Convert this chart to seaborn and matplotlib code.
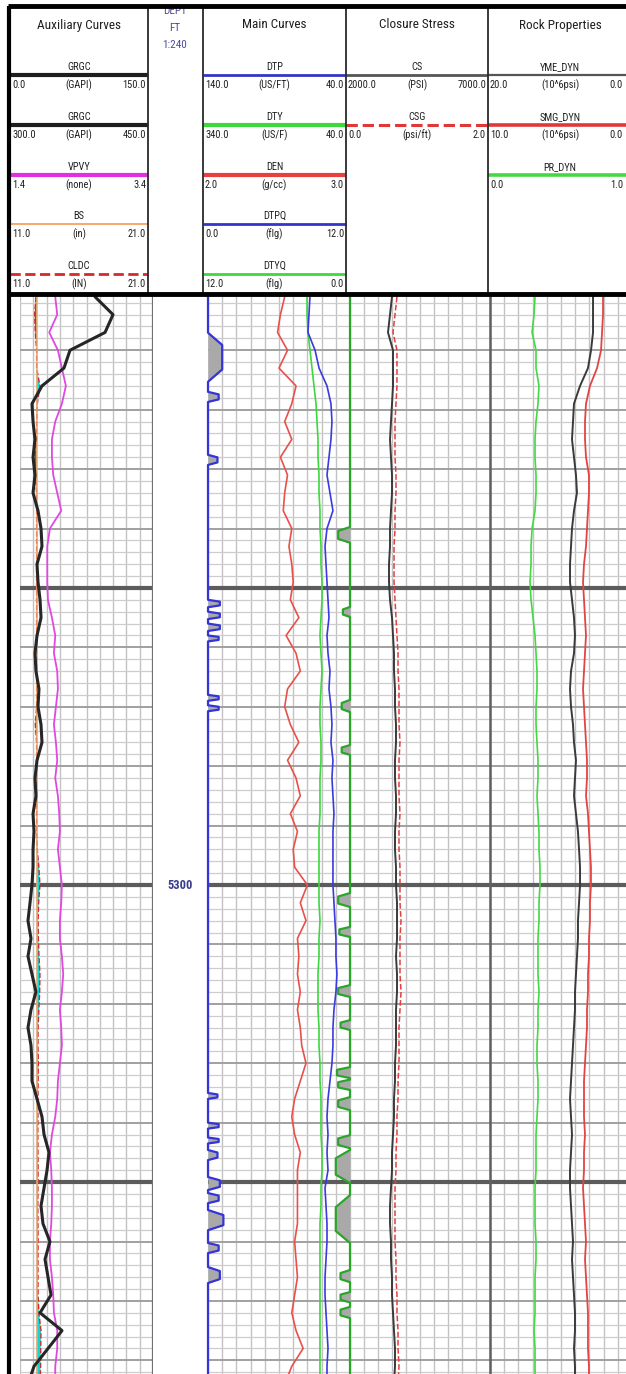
import numpy as np
import matplotlib
matplotlib.use("Agg")
import matplotlib.pyplot as plt
from matplotlib.lines import Line2D
from matplotlib.ticker import MultipleLocator
from matplotlib import font_manager
import seaborn as sns

# ---------------------------------------------------------------- log data
DEPTH = [5102, 5108, 5114, 5120, 5126, 5132, 5138, 5144, 5150, 5156,
         5162, 5168, 5174, 5180, 5186, 5192, 5198, 5204, 5210, 5216,
         5222, 5228, 5234, 5240, 5246, 5252, 5258, 5264, 5270, 5276,
         5282, 5288, 5294, 5300, 5306, 5312, 5318, 5324, 5330, 5336,
         5342, 5348, 5354, 5360, 5366, 5372, 5378, 5384, 5390, 5396,
         5402, 5408, 5414, 5420, 5426, 5432, 5438, 5444, 5450, 5456,
         5462, 5468]

GRGC = [84.6, 104.9, 95.9, 56.4, 49.6, 24.8, 13.5, 14.7, 16.9, 14.7,
        16.9, 14.7, 20.3, 23.7, 24.8, 19.2, 20.3, 22.6, 23.7, 19.2,
        16.9, 18.0, 21.4, 20.3, 23.7, 24.8, 19.2, 16.9, 18.0, 14.7,
        15.8, 14.7, 14.7, 13.5, 11.3, 9.0, 12.4, 9.0, 13.5, 18.0,
        12.4, 9.0, 12.4, 13.5, 13.5, 19.2, 24.8, 27.1, 32.7, 30.5,
        27.1, 23.7, 25.9, 33.8, 28.2, 31.6, 35.0, 22.6, 47.4, 31.6,
        15.8, 9.0]

VPVY = [1.93, 1.96, 1.84, 1.97, 2.03, 2.09, 2.03, 1.93, 1.88, 1.88,
        1.90, 1.96, 2.02, 1.85, 1.81, 1.81, 1.81, 1.82, 1.88, 1.93,
        1.91, 1.96, 1.97, 1.94, 1.91, 1.94, 1.96, 1.93, 1.97, 1.99,
        2.00, 1.97, 2.00, 2.03, 2.02, 2.00, 2.00, 2.03, 2.05, 2.03,
        2.00, 2.02, 2.03, 2.00, 1.97, 1.96, 1.93, 1.88, 1.85, 1.87,
        1.88, 1.88, 1.87, 1.85, 1.85, 1.88, 1.90, 1.91, 1.96, 1.96,
        1.93, 1.93]

BIT_SIZE = 12.25

CLDC = [12.20, 12.10, 12.15, 12.25, 12.25, 12.50, 12.30, 12.25, 12.25, 12.10,
        12.15, 12.25, 12.25, 12.25, 12.25, 12.25, 12.25, 12.25, 12.25, 12.25,
        12.25, 12.25, 12.25, 12.25, 12.15, 12.25, 12.25, 12.25, 12.25, 12.25,
        12.25, 12.30, 12.42, 12.50, 12.40, 12.36, 12.38, 12.43, 12.50, 12.48,
        12.42, 12.36, 12.35, 12.38, 12.36, 12.35, 12.35, 12.34, 12.35, 12.36,
        12.35, 12.34, 12.35, 12.36, 12.35, 12.35, 12.36, 12.42, 12.58, 12.56,
        12.55, 12.50]

DTP = [68.2, 68.9, 69.6, 64.6, 61.8, 56.2, 53.4, 52.7, 53.4, 54.8,
       56.2, 54.1, 52.0, 56.2, 57.6, 56.9, 56.2, 55.5, 54.8, 56.2,
       55.5, 54.1, 54.8, 53.4, 52.7, 53.4, 52.0, 52.7, 52.0, 51.3,
       52.0, 52.0, 52.0, 52.0, 51.3, 50.6, 49.9, 49.9, 49.2, 49.9,
       51.3, 52.0, 52.0, 52.7, 54.1, 55.5, 56.2, 55.5, 56.2, 55.5,
       57.6, 56.9, 56.2, 56.2, 56.9, 57.6, 57.6, 56.9, 56.2, 55.5,
       56.2, 56.2]

DTY = [130.8, 130.8, 128.7, 124.5, 120.3, 116.1, 111.8, 109.7, 107.6, 107.6,
       105.5, 105.5, 103.4, 103.4, 101.3, 101.3, 99.2, 99.2, 101.3, 103.4,
       101.3, 99.2, 101.3, 103.4, 103.4, 101.3, 101.3, 103.4, 103.4, 103.4,
       105.5, 105.5, 105.5, 105.5, 105.5, 103.4, 105.5, 105.5, 107.6, 107.6,
       107.6, 105.5, 105.5, 103.4, 103.4, 101.3, 101.3, 101.3, 99.2, 99.2,
       101.3, 101.3, 103.4, 103.4, 103.4, 103.4, 103.4, 103.4, 103.4, 103.4,
       103.4, 103.4]

DEN = [2.54, 2.51, 2.49, 2.56, 2.50, 2.62, 2.59, 2.54, 2.59, 2.51,
       2.56, 2.54, 2.53, 2.59, 2.57, 2.59, 2.60, 2.58, 2.64, 2.55,
       2.62, 2.65, 2.56, 2.54, 2.58, 2.64, 2.56, 2.62, 2.65, 2.58,
       2.63, 2.60, 2.61, 2.70, 2.65, 2.69, 2.63, 2.64, 2.63, 2.65,
       2.63, 2.65, 2.66, 2.69, 2.65, 2.61, 2.59, 2.61, 2.65, 2.63,
       2.63, 2.63, 2.63, 2.61, 2.62, 2.63, 2.61, 2.59, 2.62, 2.67,
       2.59, 2.54]

CS = [3500, 3429, 3357, 3536, 3536, 3536, 3500, 3464, 3429, 3464,
      3500, 3500, 3464, 3429, 3429, 3393, 3393, 3429, 3500, 3536,
      3571, 3571, 3607, 3607, 3643, 3643, 3607, 3607, 3643, 3643,
      3607, 3607, 3643, 3643, 3679, 3679, 3679, 3643, 3679, 3679,
      3643, 3643, 3643, 3607, 3607, 3571, 3571, 3536, 3500, 3500,
      3464, 3429, 3429, 3464, 3464, 3500, 3500, 3536, 3571, 3607,
      3607, 3571]

CSG = [0.671, 0.643, 0.614, 0.671, 0.671, 0.671, 0.657, 0.643, 0.643, 0.643,
       0.657, 0.657, 0.643, 0.643, 0.629, 0.629, 0.629, 0.643, 0.657, 0.671,
       0.686, 0.686, 0.700, 0.700, 0.700, 0.714, 0.700, 0.700, 0.700, 0.714,
       0.700, 0.700, 0.714, 0.714, 0.714, 0.729, 0.714, 0.714, 0.714, 0.729,
       0.714, 0.700, 0.700, 0.700, 0.686, 0.686, 0.671, 0.671, 0.657, 0.657,
       0.643, 0.643, 0.643, 0.643, 0.657, 0.657, 0.671, 0.671, 0.686, 0.686,
       0.700, 0.686]

YME_DYN = [5.49, 5.49, 5.49, 5.77, 6.20, 7.32, 8.17, 8.31, 8.45, 8.17,
           7.89, 7.75, 8.17, 8.45, 8.59, 8.73, 8.73, 8.45, 8.17, 8.03,
           8.17, 8.59, 8.73, 8.59, 8.31, 8.17, 7.89, 8.03, 8.17, 7.89,
           7.61, 7.46, 7.32, 7.32, 7.46, 7.61, 7.61, 7.75, 7.89, 8.03,
           8.03, 8.17, 8.31, 8.45, 8.59, 8.73, 8.59, 8.45, 8.59, 8.73,
           8.73, 8.59, 8.45, 8.31, 8.45, 8.31, 8.17, 8.03, 8.03, 8.17,
           8.03, 8.03]

SMG_DYN = [2.04, 2.04, 2.11, 2.18, 2.46, 2.96, 3.24, 3.31, 3.31, 3.24,
           3.03, 3.03, 3.10, 3.17, 3.24, 3.38, 3.45, 3.38, 3.31, 3.24,
           3.31, 3.38, 3.45, 3.38, 3.31, 3.24, 3.17, 3.17, 3.24, 3.10,
           3.03, 2.96, 2.89, 2.89, 2.96, 2.96, 3.03, 3.03, 3.10, 3.10,
           3.17, 3.17, 3.24, 3.31, 3.38, 3.38, 3.38, 3.31, 3.38, 3.38,
           3.45, 3.38, 3.31, 3.24, 3.31, 3.24, 3.17, 3.10, 3.10, 3.10,
           3.03, 3.03]

PR_DYN = [0.317, 0.310, 0.296, 0.324, 0.324, 0.345, 0.338, 0.324, 0.317, 0.317,
          0.324, 0.324, 0.317, 0.296, 0.289, 0.289, 0.282, 0.289, 0.303, 0.317,
          0.324, 0.331, 0.331, 0.324, 0.324, 0.331, 0.338, 0.338, 0.331, 0.338,
          0.345, 0.345, 0.352, 0.352, 0.345, 0.345, 0.338, 0.338, 0.338, 0.345,
          0.338, 0.338, 0.331, 0.331, 0.338, 0.338, 0.331, 0.324, 0.324, 0.324,
          0.317, 0.317, 0.317, 0.324, 0.324, 0.317, 0.317, 0.317, 0.310, 0.317,
          0.317, 0.317]

# quality-flag intervals (top depth, base depth, flag level)
DTPQ_TOP = [5114.1, 5134.0, 5155.2, 5204.0, 5208.0, 5212.0, 5216.0, 5236.0, 5239.5,
            5370.0, 5380.0, 5385.0, 5389.2, 5398.3, 5403.7, 5409.4, 5420.5, 5428.6]
DTPQ_BASE = [5130.6, 5137.4, 5158.6, 5206.5, 5210.5, 5214.5, 5218.0, 5238.0, 5241.5,
             5372.0, 5382.0, 5387.0, 5392.6, 5402.7, 5407.1, 5416.2, 5423.9, 5434.0]
DTPQ_LEVEL = [1.2, 0.9, 0.8, 1.0, 1.0, 1.0, 0.9, 0.9, 0.9,
              0.8, 0.9, 0.9, 0.8, 1.0, 0.9, 1.3, 0.9, 1.0]

DTYQ_TOP = [5179.5, 5206.4, 5237.7, 5252.9, 5302.7, 5314.1, 5333.7, 5345.5, 5361.3,
            5365.5, 5371.4, 5384.2, 5389.2, 5404.4, 5429.6, 5437.0, 5442.0]
DTYQ_BASE = [5184.8, 5209.8, 5241.8, 5256.2, 5307.4, 5317.5, 5337.7, 5348.8, 5365.0,
             5369.0, 5375.8, 5388.6, 5400.3, 5420.5, 5433.7, 5440.5, 5445.8]
DTYQ_LEVEL = [1.0, 0.6, 0.7, 0.7, 1.0, 0.9, 1.0, 0.8, 1.1,
              1.0, 1.0, 1.0, 1.2, 1.2, 0.8, 0.8, 0.8]

DEPTH_LABELS = [5100, 5300]
TOP_DEPTH, BOTTOM_DEPTH = 5101.4, 5464.6

# ---------------------------------------------------------------- style
sns.set_style("white")
_fonts = font_manager.fontManager.ttflist
_names = {f.name for f in _fonts}
STRETCH = "normal"
FS = 0.8
BASE_FONT = "DejaVu Sans"
for cand in ("Liberation Sans Narrow", "Arial Narrow", "Roboto Condensed",
             "Open Sans Condensed", "DejaVu Sans Condensed"):
    if cand in _names:
        BASE_FONT, FS = cand, 1.0
        break
else:
    if any(f.name == "DejaVu Sans" and "condensed" in str(f.stretch) for f in _fonts):
        STRETCH, FS = "condensed", 0.9
plt.rcParams["font.family"] = [BASE_FONT, "DejaVu Sans"]
plt.rcParams["font.stretch"] = STRETCH

W, H = 626, 1374
HEADER_BOTTOM = 294
DATA_TOP = 295

fig = plt.figure(figsize=(W / 100, H / 100), dpi=100)
fig.patch.set_facecolor("white")


def frac_rect(x0, y0, x1, y1):
    return [x0 / W, 1 - y1 / H, (x1 - x0) / W, (y1 - y0) / H]


def make_track(x0, x1, grid=True):
    ax = fig.add_axes(frac_rect(x0, DATA_TOP, x1, H))
    ax.set_xlim(0, 10)
    ax.set_ylim(BOTTOM_DEPTH, TOP_DEPTH)
    ax.set_facecolor("white")
    for s in ax.spines.values():
        s.set_visible(False)
    ax.tick_params(which="both", length=0, labelbottom=False, labelleft=False)
    if grid:
        ax.set_axisbelow(True)
        ax.set_xticks(np.arange(0, 11))
        ax.yaxis.set_major_locator(MultipleLocator(20))
        ax.yaxis.set_minor_locator(MultipleLocator(4))
        ax.grid(which="major", axis="x", color="#c2c2c2", lw=1.0)
        ax.grid(which="minor", axis="y", color="#cdcdcd", lw=0.9)
        ax.grid(which="major", axis="y", color="#a0a0a0", lw=1.4)
        for d in range(5100, 5500, 100):
            ax.axhline(d, color="#5c5c5c", lw=3.0, zorder=1.5)
    else:
        ax.set_xticks([])
        ax.set_yticks([])
    return ax


def add_curve(base, values, lo, hi, color, lw, ls="-", depth=None, clip=True):
    cax = base.twiny()
    sns.lineplot(x=values, y=DEPTH if depth is None else depth, orient="y",
                 sort=False, estimator=None, color=color, lw=lw, ls=ls,
                 ax=cax, legend=False, clip_on=clip, solid_joinstyle="round")
    cax.set_xlim(lo, hi)
    cax.set_axis_off()
    return cax


def flag_curve(tops, bases, levels):
    d, v = [TOP_DEPTH], [0.0]
    for t, b, lv in zip(tops, bases, levels):
        q = 0.25 * (b - t)
        d += [t, t + q, b - q, b]
        v += [0.0, lv, lv, 0.0]
    d.append(BOTTOM_DEPTH)
    v.append(0.0)
    return np.array(d), np.array(v)


# ---------------------------------------------------------------- tracks
aux = make_track(20, 153)
aux.spines["right"].set_visible(True)
aux.spines["right"].set_color("#707070")
aux.spines["right"].set_linewidth(1.6)

depth_ax = make_track(153, 208, grid=False)
main = make_track(208, 350)
closure = make_track(350, 490)
rock = make_track(490, 632)
rock.spines["left"].set_visible(True)
rock.spines["left"].set_color("#606060")
rock.spines["left"].set_linewidth(1.8)

# auxiliary curves: caliper vs bit size, velocity ratio, gamma ray
depth_arr = np.array(DEPTH, dtype=float)
cal = np.array(CLDC)
bs = np.full(len(DEPTH), BIT_SIZE)
cal_ax = add_curve(aux, CLDC, 11, 21, "#d42a2a", 1.0, "--")
cal_ax.fill_betweenx(depth_arr, bs, cal, where=cal > bs, interpolate=True,
                     color="#12d6d6", lw=0)
cal_ax.fill_betweenx(depth_arr, bs, cal, where=cal < bs, interpolate=True,
                     color="#3f7f1e", lw=0)
add_curve(aux, list(bs), 11, 21, "#f2a468", 1.1)
add_curve(aux, VPVY, 1.4, 3.4, "#e048e0", 1.3)
add_curve(aux, GRGC, 0, 150, "#262626", 2.2)

# main curves: quality flags, sonic and density
d_pq, v_pq = flag_curve(DTPQ_TOP, DTPQ_BASE, DTPQ_LEVEL)
pq_ax = add_curve(main, list(v_pq), 0, 12, "#3434d8", 1.6, depth=list(d_pq), clip=False)
pq_ax.fill_betweenx(d_pq, 0, v_pq, color="#a9a9a9", lw=0, zorder=1)
d_yq, v_yq = flag_curve(DTYQ_TOP, DTYQ_BASE, DTYQ_LEVEL)
yq_ax = add_curve(main, list(v_yq), 12, 0, "#2aa52a", 1.6, depth=list(d_yq), clip=False)
yq_ax.fill_betweenx(d_yq, 0, v_yq, color="#a9a9a9", lw=0, zorder=1)
add_curve(main, DEN, 2.0, 3.0, "#e8504a", 1.2)
add_curve(main, DTY, 340, 40, "#3cd83c", 1.2)
add_curve(main, DTP, 140, 40, "#3a3ae0", 1.2)

# closure stress
add_curve(closure, CS, 2000, 7000, "#3a3a3a", 1.4)
add_curve(closure, CSG, 0, 2, "#e04040", 1.1, "--")

# rock properties
add_curve(rock, PR_DYN, 0, 1, "#44d844", 1.2)
add_curve(rock, SMG_DYN, 10, 0, "#e24444", 1.3)
add_curve(rock, YME_DYN, 20, 0, "#3a3a3a", 1.4)

for ax in (aux, depth_ax, main, closure, rock):
    ax.set_ylim(BOTTOM_DEPTH, TOP_DEPTH)

# depth annotations
for d in DEPTH_LABELS:
    depth_ax.text(0.5, d, f"{d}", transform=depth_ax.get_yaxis_transform(),
                  ha="center", va="center", fontsize=9 * FS, fontweight="bold",
                  color="#3c3c8c", clip_on=True)

# ---------------------------------------------------------------- header
hdr = fig.add_axes([0, 1 - HEADER_BOTTOM / H, 1, HEADER_BOTTOM / H])
hdr.set_xlim(0, W)
hdr.set_ylim(HEADER_BOTTOM, 0)
hdr.set_axis_off()

HEADER_CELLS = [
    ("Auxiliary Curves", 10, 148, [
        ("GRGC", "(GAPI)", "0.0", "150.0", "#1e1e1e", 3.0, "-"),
        ("GRGC", "(GAPI)", "300.0", "450.0", "#1e1e1e", 3.0, "-"),
        ("VPVY", "(none)", "1.4", "3.4", "#e030e0", 3.0, "-"),
        ("BS", "(in)", "11.0", "21.0", "#f2a468", 1.3, "-"),
        ("CLDC", "(IN)", "11.0", "21.0", "#d42a2a", 2.0, "--"),
    ]),
    ("Main Curves", 203, 346, [
        ("DTP", "(US/FT)", "140.0", "40.0", "#3434c8", 2.0, "-"),
        ("DTY", "(US/F)", "340.0", "40.0", "#3cd83c", 3.0, "-"),
        ("DEN", "(g/cc)", "2.0", "3.0", "#e84040", 3.0, "-"),
        ("DTPQ", "(flg)", "0.0", "12.0", "#3434c8", 2.0, "-"),
        ("DTYQ", "(flg)", "12.0", "0.0", "#3cd83c", 2.0, "-"),
    ]),
    ("Closure Stress", 346, 488, [
        ("CS", "(PSI)", "2000.0", "7000.0", "#555555", 2.0, "-"),
        ("CSG", "(psi/ft)", "0.0", "2.0", "#e03838", 2.2, "--"),
    ]),
    ("Rock Properties", 488, 632, [
        ("YME_DYN", "(10^6psi)", "20.0", "0.0", "#555555", 1.6, "-"),
        ("SMG_DYN", "(10^6psi)", "10.0", "0.0", "#e03838", 2.6, "-"),
        ("PR_DYN", "", "0.0", "1.0", "#44d844", 2.6, "-"),
    ]),
]
ROW_Y = [75, 125, 175, 224, 274]
TXT = "#202020"

for title, x0, x1, entries in HEADER_CELLS:
    cx = 0.5 * (x0 + x1)
    right_x = min(x1 - 2, W - 3)
    hdr.text(cx, 25, title, ha="center", va="center", fontsize=9.5 * FS, color=TXT)
    for (name, unit, left, right, color, lw, ls), y in zip(entries, ROW_Y):
        hdr.plot([x0, x1], [y, y], color=color, lw=lw, ls=ls, solid_capstyle="butt")
        hdr.text(cx, y - 8, name, ha="center", va="center", fontsize=7.5 * FS, color=TXT)
        hdr.text(x0 + 2, y + 10, left, ha="left", va="center", fontsize=7.5 * FS, color=TXT)
        hdr.text(cx, y + 10, unit, ha="center", va="center", fontsize=7.5 * FS, color=TXT)
        hdr.text(right_x, y + 10, right, ha="right", va="center", fontsize=7.5 * FS, color=TXT)

for txt, y in (("DEPT", 11), ("FT", 28), ("1:240", 45)):
    hdr.text(175, y, txt, ha="center", va="center", fontsize=8 * FS, color="#4a4aa6")

for x in (148, 203, 346, 488):
    hdr.plot([x, x], [6, HEADER_BOTTOM], color="#2a2a2a", lw=1.3)


def fig_line(xs, ys, lw, color="black"):
    fig.add_artist(Line2D([x / W for x in xs], [1 - y / H for y in ys],
                          transform=fig.transFigure, color=color, lw=lw,
                          solid_capstyle="butt"))


fig_line([8, W], [6, 6], 3.5)
fig_line([8, W], [HEADER_BOTTOM, HEADER_BOTTOM], 3.5)
fig_line([9, 9], [6, H], 3.0)

fig.savefig("out.png", dpi=100, facecolor="white")
